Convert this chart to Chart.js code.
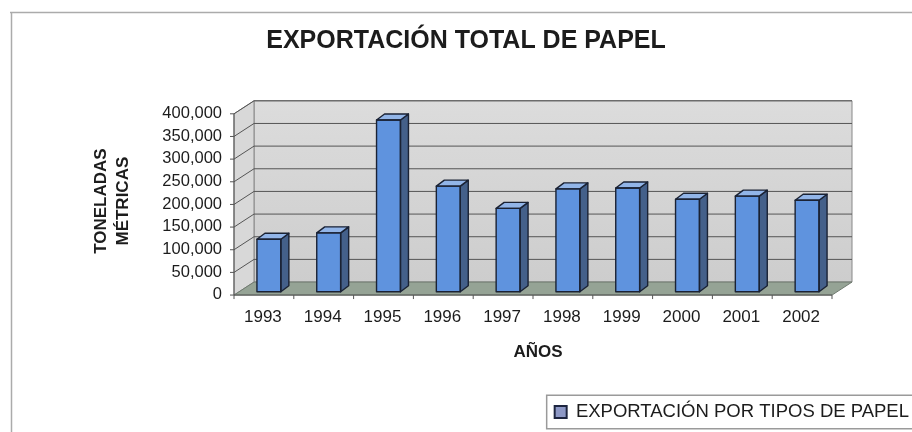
<!DOCTYPE html>
<html>
<head>
<meta charset="utf-8">
<script src="https://cdn.jsdelivr.net/npm/chart.js@4.4.1/dist/chart.umd.min.js"></script>
<style>
  html, body { margin: 0; padding: 0; background: #ffffff; }
  #wrap { width: 912px; height: 432px; }
</style>
</head>
<body>
<div id="wrap"><canvas id="chart" width="912" height="432"></canvas></div>
<script>
// Paper exports, metric tonnes per year
const years = ['1993', '1994', '1995', '1996', '1997', '1998', '1999', '2000', '2001', '2002'];
const exportTons = [116000, 130000, 379000, 233000, 184000, 227000, 229000, 204000, 211000, 202000];

const yMin = 0;
const yMax = 400000;
const yStep = 50000;

const chartTitle = 'EXPORTACIÓN TOTAL DE PAPEL';
const seriesName = 'EXPORTACIÓN POR TIPOS DE PAPEL';
const xTitle = 'AÑOS';
const yTitle = ['TONELADAS', 'MÉTRICAS'];

const FONT = '"Liberation Sans", Arial, Helvetica, sans-serif';

// Depth offsets of the pseudo-3D box, relative to the bar plane
const FRONT = { dx: -5, dy: 3.3 };
const BACK = { dx: 15, dy: -9.7 };
const BAR_DEPTH = { dx: 8, dy: -6 };

const COLORS = {
  barFront: '#5f93de',
  barSide: '#44608a',
  barTop: '#92b5e8',
  barEdge: '#1a2234',
  wallBack: ['#dcdcdc', '#cdcdcd'],
  wallSide: '#d8d8d8',
  floor: '#95a395',
  grid: '#555555',
  wallEdge: '#888888',
  axis: '#555555',
  text: '#1c1c1c',
  frame: '#ababab'
};

function poly(ctx, pts, fill, stroke, lw) {
  ctx.beginPath();
  ctx.moveTo(pts[0][0], pts[0][1]);
  for (let i = 1; i < pts.length; i++) ctx.lineTo(pts[i][0], pts[i][1]);
  ctx.closePath();
  if (fill) { ctx.fillStyle = fill; ctx.fill(); }
  if (stroke) { ctx.strokeStyle = stroke; ctx.lineWidth = lw || 1; ctx.stroke(); }
}

const scene3d = {
  id: 'scene3d',
  beforeDraw(chart) {
    const { ctx, width, height } = chart;
    ctx.save();
    ctx.fillStyle = '#ffffff';
    ctx.fillRect(0, 0, width, height);
    // outer frame of the chart object
    ctx.strokeStyle = COLORS.frame;
    ctx.lineWidth = 1.5;
    ctx.beginPath();
    ctx.moveTo(10, 12.5); ctx.lineTo(width, 12.5);
    ctx.moveTo(11.5, 12); ctx.lineTo(11.5, height);
    ctx.stroke();
    ctx.restore();
  },
  beforeDatasetsDraw(chart) {
    const { ctx, chartArea: a, scales } = chart;
    const y = scales.y;
    const L = a.left, R = a.right;
    const T = y.getPixelForValue(yMax), B = y.getPixelForValue(yMin);
    const fl = [L + FRONT.dx, B + FRONT.dy], fr = [R + FRONT.dx, B + FRONT.dy];
    const bl = [L + BACK.dx, B + BACK.dy], br = [R + BACK.dx, B + BACK.dy];
    const tlB = [L + BACK.dx, T + BACK.dy], trB = [R + BACK.dx, T + BACK.dy];
    const tlF = [L + FRONT.dx, T + FRONT.dy];
    ctx.save();
    // back wall
    const g = ctx.createLinearGradient(0, tlB[1], 0, bl[1]);
    g.addColorStop(0, COLORS.wallBack[0]);
    g.addColorStop(1, COLORS.wallBack[1]);
    poly(ctx, [tlB, trB, br, bl], g, COLORS.wallEdge, 1);
    // side wall
    poly(ctx, [tlF, tlB, bl, fl], COLORS.wallSide, COLORS.wallEdge, 1);
    // grid lines across side and back walls
    ctx.strokeStyle = COLORS.grid;
    ctx.lineWidth = 1;
    for (let v = yMin + yStep; v <= yMax; v += yStep) {
      const yy = y.getPixelForValue(v);
      ctx.beginPath();
      ctx.moveTo(L + FRONT.dx, yy + FRONT.dy);
      ctx.lineTo(L + BACK.dx, yy + BACK.dy);
      ctx.lineTo(R + BACK.dx, yy + BACK.dy);
      ctx.stroke();
    }
    // floor
    poly(ctx, [fl, fr, br, bl], COLORS.floor, '#6f7a6f', 1);
    // value axis line with tick marks
    ctx.strokeStyle = COLORS.axis;
    ctx.lineWidth = 1;
    ctx.beginPath();
    ctx.moveTo(tlF[0], tlF[1]);
    ctx.lineTo(fl[0], fl[1]);
    for (let v = yMin; v <= yMax; v += yStep) {
      const yy = y.getPixelForValue(v) + FRONT.dy;
      ctx.moveTo(tlF[0] - 4, yy);
      ctx.lineTo(tlF[0], yy);
    }
    // category axis along the front edge of the floor
    ctx.moveTo(fl[0], fl[1]);
    ctx.lineTo(fr[0], fr[1]);
    const n = years.length;
    for (let i = 0; i <= n; i++) {
      const px = L + (R - L) * i / n + FRONT.dx;
      ctx.moveTo(px, fl[1]);
      ctx.lineTo(px, fl[1] + 4);
    }
    ctx.stroke();
    ctx.restore();
  },
  afterDatasetsDraw(chart) {
    const { ctx } = chart;
    const meta = chart.getDatasetMeta(0);
    ctx.save();
    ctx.lineJoin = 'round';
    meta.data.forEach((bar) => {
      const { x, y, base, width } = bar.getProps(['x', 'y', 'base', 'width'], true);
      const l = x - width / 2, r = x + width / 2;
      const dx = BAR_DEPTH.dx, dy = BAR_DEPTH.dy;
      poly(ctx, [[r, y], [r + dx, y + dy], [r + dx, base + dy], [r, base]], COLORS.barSide, COLORS.barEdge, 1.4);
      poly(ctx, [[l, y], [l + dx, y + dy], [r + dx, y + dy], [r, y]], COLORS.barTop, COLORS.barEdge, 1.4);
      ctx.strokeStyle = COLORS.barEdge;
      ctx.lineWidth = 1.4;
      ctx.strokeRect(l, y, width, base - y);
    });
    ctx.restore();
  },
  afterDraw(chart) {
    const lg = chart.legend;
    if (!lg || !lg.legendHitBoxes || !lg.legendHitBoxes.length) return;
    const h = lg.legendHitBoxes[0];
    const { ctx } = chart;
    ctx.save();
    ctx.strokeStyle = '#9a9a9a';
    ctx.lineWidth = 1.5;
    ctx.strokeRect(h.left - 8, h.top - 7.5, chart.width + 10 - (h.left - 8), h.height + 15);
    ctx.restore();
  }
};

new Chart(document.getElementById('chart'), {
  type: 'bar',
  data: {
    labels: years,
    datasets: [{
      label: seriesName,
      data: exportTons,
      backgroundColor: COLORS.barFront,
      borderColor: COLORS.barEdge,
      borderWidth: 0,
      categoryPercentage: 1.0,
      barPercentage: 0.4
    }]
  },
  options: {
    responsive: false,
    animation: false,
    layout: { padding: { left: 20, right: 0, top: 0, bottom: 0.75 } },
    plugins: {
      title: {
        display: true,
        text: chartTitle,
        color: COLORS.text,
        font: { family: FONT, size: 25, weight: 'bold', lineHeight: 1.2 },
        padding: { top: 26.5, bottom: 54 }
      },
      legend: {
        display: true,
        position: 'bottom',
        align: 'end',
        labels: {
          color: COLORS.text,
          font: { family: FONT, size: 18.5, lineHeight: 1.2 },
          boxWidth: 12,
          boxHeight: 12,
          padding: 3,
          generateLabels() {
            return [{
              text: seriesName,
              fillStyle: '#8d98c6',
              strokeStyle: '#1d2540',
              lineWidth: 2,
              hidden: false,
              datasetIndex: 0,
              fontColor: COLORS.text
            }];
          }
        }
      },
      tooltip: { enabled: false }
    },
    scales: {
      x: {
        grid: { display: false, drawTicks: false },
        border: { display: false },
        ticks: {
          color: COLORS.text,
          font: { family: FONT, size: 17 },
          padding: 15,
          labelOffset: -6,
          maxRotation: 0,
          autoSkip: false
        },
        title: {
          display: true,
          text: xTitle,
          color: COLORS.text,
          font: { family: FONT, size: 17, weight: 'bold', lineHeight: 1.2 },
          padding: { top: 0, bottom: 37.5 }
        },
        afterFit(s) { s.height = 108; }
      },
      y: {
        min: yMin,
        max: yMax,
        grid: { display: false, drawTicks: false },
        border: { display: false },
        ticks: {
          stepSize: yStep,
          autoSkip: false,
          color: COLORS.text,
          font: { family: FONT, size: 16.5, lineHeight: 1.0 },
          padding: 17,
          labelOffset: 3,
          callback: (v) => Number(v).toLocaleString('en-US')
        },
        title: {
          display: true,
          text: yTitle,
          color: COLORS.text,
          font: { family: FONT, size: 17, weight: 'bold', lineHeight: 1.3 },
          padding: { top: 70, bottom: 0 }
        },
        afterFit(s) { s.width = 219; }
      },
      yRight: {
        position: 'right',
        display: true,
        grid: { display: false, drawTicks: false },
        border: { display: false },
        ticks: { display: false },
        afterFit(s) { s.width = 75; }
      }
    }
  },
  plugins: [scene3d]
});
</script>
</body>
</html>
